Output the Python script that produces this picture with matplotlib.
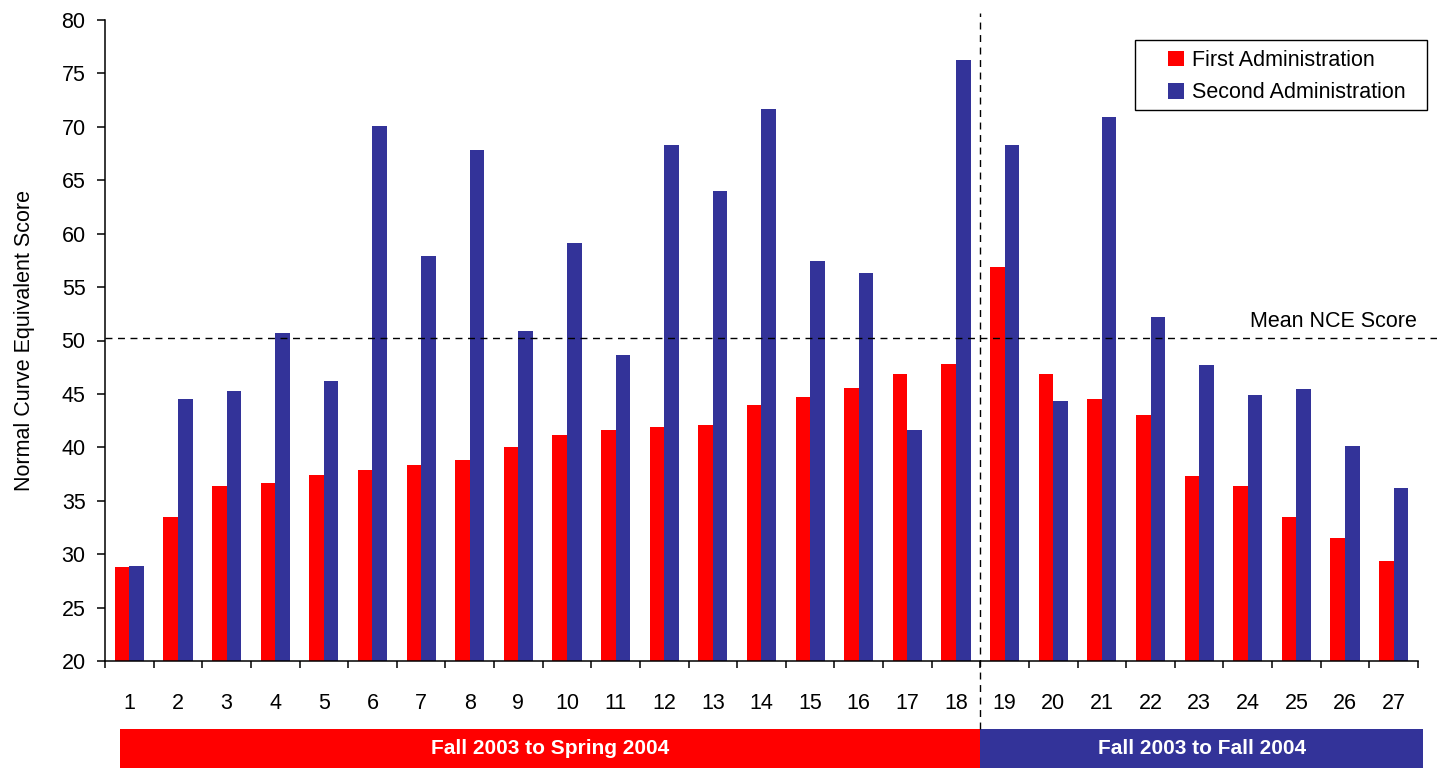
import matplotlib
matplotlib.use("Agg")
import matplotlib.pyplot as plt
from matplotlib.patches import Rectangle
from matplotlib import font_manager
import numpy as np

# Scores per group
groups = list(range(1, 28))
first_admin = [28.8, 33.5, 36.4, 36.7, 37.4, 37.9, 38.3, 38.8, 40.0, 41.2,
               41.6, 41.9, 42.1, 44.0, 44.7, 45.6, 46.9, 47.8, 56.9, 46.9,
               44.5, 43.0, 37.3, 36.4, 33.5, 31.5, 29.4]
second_admin = [28.9, 44.5, 45.3, 50.7, 46.2, 70.1, 57.9, 67.8, 50.9, 59.1,
                48.6, 68.3, 64.0, 71.7, 57.4, 56.3, 41.6, 76.3, 68.3, 44.3,
                70.9, 52.2, 47.7, 44.9, 45.5, 40.1, 36.2]
series_names = ["First Administration", "Second Administration"]
mean_nce = 50.2
period_labels = ["Fall 2003 to Spring 2004", "Fall 2003 to Fall 2004"]
period_split = 18  # last group of the first period

RED = "#FF0000"
BLUE = "#333399"
FS = 15.5

installed = {f.name for f in font_manager.fontManager.ttflist}
narrow = "Liberation Sans Narrow" if "Liberation Sans Narrow" in installed else "Liberation Sans"
plt.rcParams["font.family"] = ["Liberation Sans", "DejaVu Sans"]

W, H = 1437, 768
fig = plt.figure(figsize=(W / 100, H / 100), dpi=100)
ax = fig.add_axes([105 / W, 107 / H, 1313 / W, 641 / H])

x = np.array(groups, dtype=float)
w = 0.3
ax.bar(x - w / 2, first_admin, width=w, color=RED, label=series_names[0], zorder=2)
ax.bar(x + w / 2, second_admin, width=w, color=BLUE, label=series_names[1], zorder=2)

ax.set_xlim(0.5, 27.5)
ax.set_ylim(20, 80)
ax.set_yticks(np.arange(20, 81, 5))
ax.set_xticks(np.arange(0.5, 28, 1.0))
ax.set_xticklabels([])
ax.set_xticks(x, minor=True)
ax.set_xticklabels([str(g) for g in groups], minor=True)

for s in ["top", "right"]:
    ax.spines[s].set_visible(False)
for s in ["left", "bottom"]:
    ax.spines[s].set_linewidth(1.1)
    ax.spines[s].set_color("black")

ax.tick_params(axis="y", which="major", length=6, width=1.1, pad=8, labelsize=FS)
ax.tick_params(axis="x", which="major", length=5, width=1.1, direction="out")
ax.tick_params(axis="x", which="minor", length=0, pad=23, labelsize=FS)

ax.set_ylabel("Normal Curve Equivalent Score", fontsize=FS, labelpad=19)

# Mean reference line, running past the axis end
ax.plot([0.5, 27.9], [mean_nce, mean_nce], color="black", lw=1.0,
        ls=(0, (5, 4)), clip_on=False, zorder=3)
ax.text(27.48, mean_nce + 1.06, "Mean NCE Score", ha="right", va="baseline", fontsize=FS)

# Divider between periods
ax.plot([period_split + 0.5] * 2, [13.6, 80.65], color="black", lw=1.0,
        ls=(0, (5, 4)), clip_on=False, zorder=3)

# Period bands under the axis
band_bottom, band_top = 9.5, 13.6
ax.add_patch(Rectangle((0.81, band_bottom), period_split + 0.5 - 0.81, band_top - band_bottom,
                       facecolor=RED, edgecolor="none", clip_on=False))
ax.add_patch(Rectangle((period_split + 0.5, band_bottom), 27.6 - (period_split + 0.5),
                       band_top - band_bottom, facecolor=BLUE, edgecolor="none", clip_on=False))
ax.text((0.81 + period_split + 0.5) / 2, 11.8, period_labels[0], ha="center", va="center",
        color="white", fontsize=15, fontweight="bold", family=[narrow, "DejaVu Sans"])
ax.text((period_split + 0.5 + 27.6) / 2, 11.8, period_labels[1], ha="center", va="center",
        color="white", fontsize=15, fontweight="bold", family=[narrow, "DejaVu Sans"])

# Legend with a separately drawn frame
leg = ax.legend(loc="upper left", bbox_to_anchor=(1168 / W, 1 - 50 / H),
                bbox_transform=fig.transFigure, fontsize=FS, frameon=False,
                handlelength=0.75, handleheight=0.75, handletextpad=0.35,
                borderpad=0, labelspacing=0.52, borderaxespad=0)
fig.patches.append(Rectangle((1135 / W, 1 - 110 / H), 292 / W, 70 / H,
                             transform=fig.transFigure, facecolor="none",
                             edgecolor="black", linewidth=1.0))

fig.savefig("out.png", dpi=100)
